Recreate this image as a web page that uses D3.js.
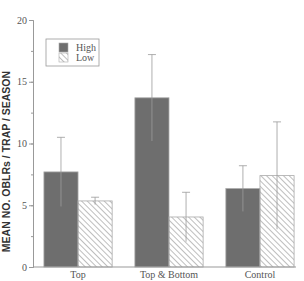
<!DOCTYPE html>
<html>
<head>
<meta charset="utf-8">
<script src="https://cdn.jsdelivr.net/npm/d3@7"></script>
<style>
  body { margin: 0; background: #fff; }
  svg { display: block; }
  .tick text { font-family: "Liberation Serif", serif; font-size: 10px; fill: #555; }
</style>
</head>
<body>
<div id="chart"></div>
<script>
const categories = ["Top", "Top & Bottom", "Control"];
const seriesNames = ["High", "Low"];
const highMeans = [7.7, 13.7, 6.35];
const highErrors = [2.8, 3.5, 1.85];
const lowMeans = [5.35, 4.05, 7.4];
const lowErrors = [0.3, 2.0, 4.35];
const yTicks = [0, 5, 10, 15, 20];

const width = 304, height = 281;
const margin = {top: 20, right: 8, bottom: 14, left: 33};

const svg = d3.select("#chart").append("svg")
    .attr("width", width)
    .attr("height", height);

// hatch pattern for the Low series
const defs = svg.append("defs");
defs.append("pattern")
    .attr("id", "hatch")
    .attr("patternUnits", "userSpaceOnUse")
    .attr("width", 4)
    .attr("height", 4)
    .attr("patternTransform", "rotate(-45)")
    .append("line")
    .attr("x1", 0).attr("y1", 0).attr("x2", 0).attr("y2", 4)
    .attr("stroke", "#888")
    .attr("stroke-width", 1.1);

const x = d3.scaleBand()
    .domain(categories)
    .range([margin.left, 305])
    .paddingInner(0.25)
    .paddingOuter(0.12);
const xSub = d3.scaleBand()
    .domain(seriesNames)
    .range([0, x.bandwidth()]);
const y = d3.scaleLinear()
    .domain([0, 20])
    .range([height - margin.bottom, margin.top]);

const rows = categories.map((c, i) => ({
    cat: c,
    vals: [
        {s: "High", v: highMeans[i], e: highErrors[i]},
        {s: "Low", v: lowMeans[i], e: lowErrors[i]}
    ]
}));

const groups = svg.selectAll(".grp")
    .data(rows)
    .enter().append("g")
    .attr("class", "grp")
    .attr("transform", d => `translate(${x(d.cat)},0)`);

groups.selectAll("rect")
    .data(d => d.vals)
    .enter().append("rect")
    .attr("x", d => xSub(d.s))
    .attr("y", d => y(d.v))
    .attr("width", xSub.bandwidth())
    .attr("height", d => y(0) - y(d.v))
    .attr("fill", d => d.s === "High" ? "#6e6e6e" : "url(#hatch)")
    .attr("stroke", "#aaa")
    .attr("stroke-width", 0.8);

// error bars
const err = groups.selectAll(".err")
    .data(d => d.vals)
    .enter().append("g")
    .attr("class", "err")
    .attr("stroke", "#9a9a9a")
    .attr("stroke-width", 0.8);
err.append("line")
    .attr("x1", d => xSub(d.s) + xSub.bandwidth() / 2)
    .attr("x2", d => xSub(d.s) + xSub.bandwidth() / 2)
    .attr("y1", d => y(d.v - d.e))
    .attr("y2", d => y(d.v + d.e));
err.append("line")
    .attr("x1", d => xSub(d.s) + xSub.bandwidth() / 2 - 4)
    .attr("x2", d => xSub(d.s) + xSub.bandwidth() / 2 + 4)
    .attr("y1", d => y(d.v + d.e))
    .attr("y2", d => y(d.v + d.e));

// y axis with minor ticks
svg.append("g")
    .attr("transform", `translate(${margin.left},0)`)
    .call(d3.axisLeft(y).tickValues(d3.range(0, 20.1, 2.5)).tickSize(2).tickFormat(""))
    .call(g => g.selectAll("line, path").attr("stroke", "#999"));
svg.append("g")
    .attr("transform", `translate(${margin.left},0)`)
    .call(d3.axisLeft(y).tickValues(yTicks).tickSize(4).tickPadding(2).tickSizeOuter(0))
    .call(g => g.selectAll("line, path").attr("stroke", "#999"));

// x axis
svg.append("g")
    .attr("transform", `translate(0,${y(0)})`)
    .call(d3.axisBottom(x).tickSize(0).tickPadding(4).tickSizeOuter(0))
    .call(g => g.select("path").attr("d", `M${margin.left},0H296`).attr("stroke", "#999"))
    .call(g => g.selectAll("text").style("font-size", "10px").attr("fill", "#333"));

// y label
svg.append("text")
    .attr("transform", `translate(10,${(y(0) + y(20)) / 2 + 18}) rotate(-90)`)
    .attr("text-anchor", "middle")
    .style("font-family", "'Liberation Sans', Arial, sans-serif")
    .style("font-weight", "bold")
    .style("font-size", "10.5px")
    .attr("fill", "#333")
    .text("MEAN NO. OBLRs / TRAP / SEASON");

// legend
const legend = svg.append("g").attr("transform", "translate(46,39)");
legend.append("rect")
    .attr("width", 53).attr("height", 27)
    .attr("fill", "#fff").attr("stroke", "#999").attr("stroke-width", 0.8);
seriesNames.forEach((s, i) => {
    legend.append("rect")
        .attr("x", 13).attr("y", 4 + i * 10)
        .attr("width", 9).attr("height", 9)
        .attr("fill", s === "High" ? "#6e6e6e" : "url(#hatch)")
        .attr("stroke", "#aaa").attr("stroke-width", 0.6);
    legend.append("text")
        .attr("x", 30).attr("y", 11.5 + i * 10)
        .style("font-family", "'Liberation Serif', serif")
        .style("font-size", "10px")
        .attr("fill", "#555")
        .text(s);
});
</script>
</body>
</html>
